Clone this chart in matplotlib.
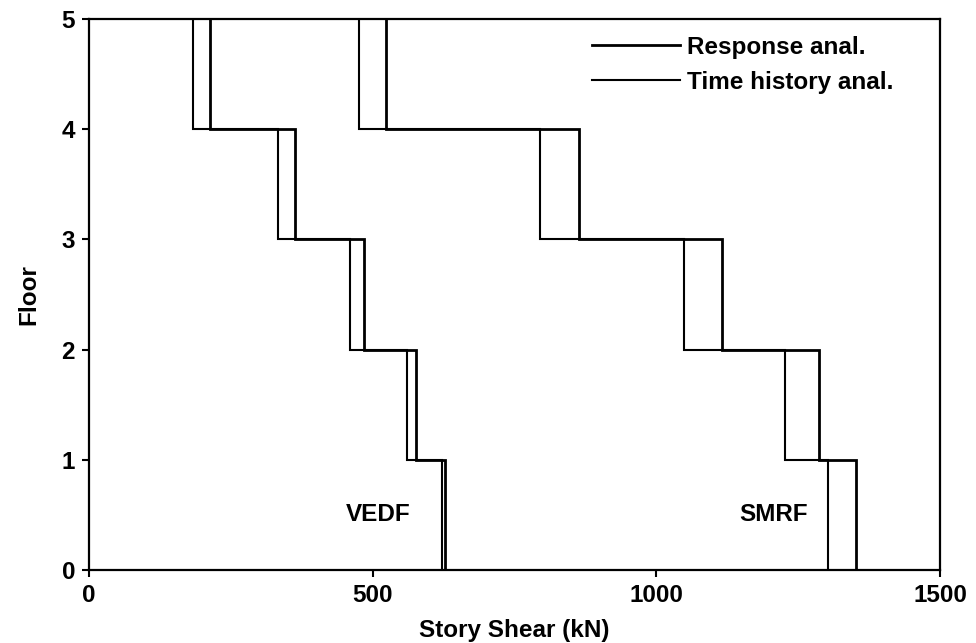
import matplotlib
matplotlib.use("Agg")
import matplotlib.pyplot as plt

plt.rcParams['font.family'] = ['Liberation Sans', 'DejaVu Sans']
plt.rcParams['font.weight'] = 'bold'

# Data: story shear (kN) for stories 1..5 (between floor edges)
floor_edges = [0, 1, 2, 3, 4, 5]
vedf_response = [628, 576, 485, 363, 213]
vedf_time_history = [622, 560, 460, 334, 183]
smrf_response = [1352, 1287, 1116, 864, 524]
smrf_time_history = [1303, 1226, 1048, 795, 476]

x_ticks = [0, 500, 1000, 1500]
y_ticks = [0, 1, 2, 3, 4, 5]

fig = plt.figure(figsize=(9.76, 6.43), dpi=100)
ax = fig.add_axes([0.0912, 0.1135, 0.8719, 0.857])

fs = 17.5
lw_resp = 2.0
lw_th = 1.5

ax.stairs(vedf_response, floor_edges, orientation='horizontal', baseline=None,
          color='black', linewidth=lw_resp, label='Response anal.')
ax.stairs(vedf_time_history, floor_edges, orientation='horizontal', baseline=None,
          color='black', linewidth=lw_th, label='Time history anal.')
ax.stairs(smrf_response, floor_edges, orientation='horizontal', baseline=None,
          color='black', linewidth=lw_resp)
ax.stairs(smrf_time_history, floor_edges, orientation='horizontal', baseline=None,
          color='black', linewidth=lw_th)

ax.set_xlim(0, 1500)
ax.set_ylim(0, 5)
ax.set_xticks(x_ticks)
ax.set_yticks(y_ticks)
ax.tick_params(direction='out', length=5, width=1.5, labelsize=fs, pad=5)
for s in ax.spines.values():
    s.set_linewidth(1.6)

ax.set_xlabel('Story Shear (kN)', fontsize=fs, fontweight='bold', labelpad=9)
ax.set_ylabel('Floor', fontsize=fs, fontweight='bold', labelpad=15)

ax.text(510, 0.5, 'VEDF', fontsize=fs, fontweight='bold', ha='center', va='center')
ax.text(1206, 0.5, 'SMRF', fontsize=fs, fontweight='bold', ha='center', va='center')

leg = ax.legend(loc='upper right', bbox_to_anchor=(0.945, 0.97), frameon=False,
                fontsize=fs, handlelength=3.6, handletextpad=0.3,
                borderaxespad=0, borderpad=0, labelspacing=0.5)

fig.savefig('out.png', dpi=100)
